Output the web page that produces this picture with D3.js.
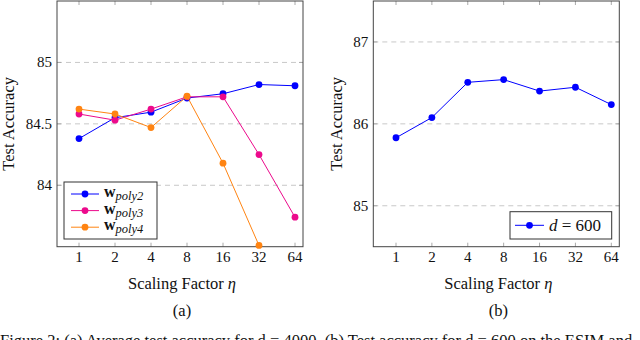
<!DOCTYPE html>
<html>
<head>
<meta charset="utf-8">
<script src="https://cdn.jsdelivr.net/npm/d3@7"></script>
<style>
  body { margin: 0; background: #fff; }
</style>
</head>
<body>
<svg width="640" height="340"></svg>
<script>
// Scaling factors on the x axis
const etas = ["1", "2", "4", "8", "16", "32", "64"];

// Panel (a) series
const poly2 = [84.38, 84.55, 84.595, 84.71, 84.745, 84.82, 84.81];
const poly3 = [84.58, 84.53, 84.62, 84.72, 84.72, 84.25, 83.74];
const poly4 = [84.62, 84.58, 84.47, 84.725, 84.18, 83.51];
const ticksA = [84, 84.5, 85];
const labelsA = ["84", "84.5", "85"];

// Panel (b) series
const d600 = [85.83, 86.077, 86.507, 86.54, 86.40, 86.447, 86.235];
const ticksB = [85, 86, 87];

const SERIF = "'Liberation Serif', 'DejaVu Serif', serif";

const svg = d3.select("svg");

function label(sel, size) {
    return sel.style("font-family", SERIF).style("font-size", size).attr("fill", "#111");
}

function panel(opt) {
    const g = svg.append("g");
    const x = d3.scalePoint().domain(etas).range(opt.xRange);
    const y = d3.scaleLinear().domain(opt.yDomain).range([opt.bottom, opt.top]);

    // dashed grid
    g.selectAll(".grid").data(opt.yTicks).enter().append("line")
        .attr("x1", opt.left).attr("x2", opt.right)
        .attr("y1", d => y(d)).attr("y2", d => y(d))
        .attr("stroke", "#c8c8c8").attr("stroke-dasharray", "5,4");

    // tick marks (inside, top and bottom, left and right)
    etas.forEach(e => {
        g.append("line").attr("x1", x(e)).attr("x2", x(e))
            .attr("y1", opt.bottom).attr("y2", opt.bottom - 4).attr("stroke", "#aaa");
        g.append("line").attr("x1", x(e)).attr("x2", x(e))
            .attr("y1", opt.top).attr("y2", opt.top + 4).attr("stroke", "#aaa");
    });
    opt.yTicks.forEach(t => {
        g.append("line").attr("x1", opt.left).attr("x2", opt.left + 4)
            .attr("y1", y(t)).attr("y2", y(t)).attr("stroke", "#aaa");
        g.append("line").attr("x1", opt.right).attr("x2", opt.right - 4)
            .attr("y1", y(t)).attr("y2", y(t)).attr("stroke", "#aaa");
    });

    // frame
    g.append("rect")
        .attr("x", opt.left).attr("y", opt.top)
        .attr("width", opt.right - opt.left).attr("height", opt.bottom - opt.top)
        .attr("fill", "none").attr("stroke", "#444").attr("stroke-width", 1);

    // tick labels
    label(g.selectAll(".xl").data(etas).enter().append("text"), "15px")
        .attr("x", d => x(d)).attr("y", opt.bottom + 15)
        .attr("text-anchor", "middle").text(d => d);
    label(g.selectAll(".yl").data(opt.yTicks).enter().append("text"), "15px")
        .attr("x", opt.left - 5).attr("y", d => y(d) + 5)
        .attr("text-anchor", "end")
        .text((d, i) => opt.yLabels[i]);

    // axis titles
    const xl = label(g.append("text"), "16.5px")
        .attr("x", (opt.left + opt.right) / 2 + 2).attr("y", opt.bottom + 42)
        .attr("text-anchor", "middle");
    xl.append("tspan").text("Scaling Factor ");
    xl.append("tspan").style("font-style", "italic").text("η");

    label(g.append("text"), "16.5px")
        .attr("transform", "translate(" + opt.yTitleX + "," + ((opt.top + opt.bottom) / 2) + ") rotate(-90)")
        .attr("text-anchor", "middle")
        .text("Test Accuracy");

    label(g.append("text"), "16.5px")
        .attr("x", (opt.left + opt.right) / 2 + 2).attr("y", opt.bottom + 69)
        .attr("text-anchor", "middle")
        .text(opt.title);

    // series
    const line = d3.line().x((d, i) => x(etas[i])).y(d => y(d));
    opt.series.forEach(s => {
        g.append("path").datum(s.values)
            .attr("d", line).attr("fill", "none")
            .attr("stroke", s.color).attr("stroke-width", 1);
        g.selectAll(null).data(s.values).enter().append("circle")
            .attr("cx", (d, i) => x(etas[i])).attr("cy", d => y(d))
            .attr("r", 3.4).attr("fill", s.color);
    });

    return g;
}

const BLUE = "#0000ff", PINK = "#ec0a8c", ORANGE = "#ff8412";

const gA = panel({
    left: 57, right: 303, top: 1, bottom: 246.7,
    xRange: [79, 295],
    yDomain: [83.5, 85.5],
    yTicks: ticksA, yLabels: labelsA,
    yTitleX: 14, title: "(a)",
    series: [
        { values: poly2, color: BLUE },
        { values: poly3, color: PINK },
        { values: poly4, color: ORANGE }
    ]
});

const gB = panel({
    left: 373.3, right: 619.3, top: 1, bottom: 246.7,
    xRange: [396, 611.3],
    yDomain: [84.5, 87.5],
    yTicks: ticksB, yLabels: ticksB.map(String),
    yTitleX: 342, title: "(b)",
    series: [{ values: d600, color: BLUE }]
});

// Legend (a)
const legA = [
    { sub: "poly2", color: BLUE },
    { sub: "poly3", color: PINK },
    { sub: "poly4", color: ORANGE }
];
gA.append("rect").attr("x", 64).attr("y", 182).attr("width", 93).attr("height", 57)
    .attr("fill", "#fff").attr("stroke", "#333").attr("stroke-width", 1);
legA.forEach((l, i) => {
    const yy = 194 + i * 16.6;
    gA.append("line").attr("x1", 71).attr("x2", 99).attr("y1", yy).attr("y2", yy)
        .attr("stroke", l.color).attr("stroke-width", 1);
    gA.append("circle").attr("cx", 85).attr("cy", yy).attr("r", 3.4).attr("fill", l.color);
    const t = label(gA.append("text"), "16px").attr("x", 104).attr("y", yy + 3);
    t.append("tspan").style("font-weight", "bold").text("w");
    t.append("tspan").attr("dy", 3).style("font-style", "italic").style("font-size", "12.5px").text(l.sub);
});

// Legend (b)
gB.append("rect").attr("x", 510).attr("y", 211.7).attr("width", 101.7).attr("height", 27.3)
    .attr("fill", "#fff").attr("stroke", "#333").attr("stroke-width", 1);
gB.append("line").attr("x1", 515).attr("x2", 544).attr("y1", 225.3).attr("y2", 225.3)
    .attr("stroke", BLUE).attr("stroke-width", 1);
gB.append("circle").attr("cx", 529.5).attr("cy", 225.3).attr("r", 3.4).attr("fill", BLUE);
const tb = label(gB.append("text"), "17px").attr("x", 549).attr("y", 231);
tb.append("tspan").style("font-style", "italic").text("d");
tb.append("tspan").text(" = 600");

// Caption (only its top shows at the bottom edge)
label(svg.append("text"), "16.5px").attr("x", 0).attr("y", 346)
    .text("Figure 2: (a) Average test accuracy for d = 4000. (b) Test accuracy for d = 600 on the ESIM and");
</script>
</body>
</html>
